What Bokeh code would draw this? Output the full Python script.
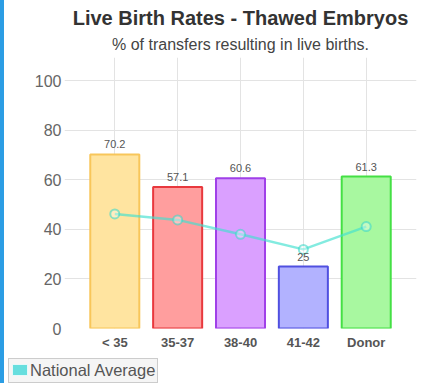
from bokeh.plotting import figure
from bokeh.layouts import column
from bokeh.models import (FactorRange, Range1d, ColumnDataSource, FixedTicker, Title,
                          LabelSet, Div)
from bokeh.core.properties import value
from bokeh.embed import file_html
from bokeh.resources import INLINE

categories = ["< 35", "35-37", "38-40", "41-42", "Donor"]
clinic_rates = [70.2, 57.1, 60.6, 25, 61.3]
national_average = [46.2, 43.8, 38.0, 31.9, 41.1]
bar_fill = ["#ffe4a0", "#ff9e9e", "#daa0ff", "#b2b2ff", "#a8f8a0"]
bar_line = ["#f8c65a", "#e8383d", "#a040e8", "#5050e0", "#44e044"]
y_ticks = [0, 20, 40, 60, 80, 100]
legend_label = "National Average"
legend_color = "#66dede"

FONT = "Liberation Sans"

bars = ColumnDataSource(dict(cat=categories, val=clinic_rates, fill=bar_fill,
                             line=bar_line, lbl=[f"{v:g}" for v in clinic_rates]))
nat = ColumnDataSource(dict(cat=categories, val=national_average))

p = figure(frame_width=352, frame_height=271, output_backend="svg",
           toolbar_location=None,
           x_range=FactorRange(factors=categories, range_padding=0.3,
                               range_padding_units="absolute"),
           y_range=Range1d(0, 109.3),
           min_border_left=60, min_border_right=5, min_border_top=57,
           min_border_bottom=30)
p.outline_line_color = None
p.background_fill_color = "white"

# titles
sub = Title(text="% of transfers resulting in live births.", align="center",
            text_font=FONT, text_font_size="16px", text_font_style="normal",
            text_color="#444444", standoff=10)
p.add_layout(sub, "above")
main = Title(text="Live Birth Rates - Thawed Embryos", align="center",
             text_font=FONT, text_font_size="20px", text_font_style="bold",
             text_color="#333333", standoff=0)
p.add_layout(main, "above")

# grids
p.xgrid.grid_line_color = "#e3e3e3"
p.ygrid.grid_line_color = "#e3e3e3"
p.ygrid.ticker = FixedTicker(ticks=y_ticks)

# axes
p.yaxis.ticker = FixedTicker(ticks=y_ticks)
p.yaxis.axis_line_color = None
p.yaxis.major_tick_line_color = None
p.yaxis.minor_tick_line_color = None
p.yaxis.major_tick_out = 0
p.yaxis.major_label_standoff = 3
p.yaxis.major_label_text_font = FONT
p.yaxis.major_label_text_font_size = "16px"
p.yaxis.major_label_text_color = "#666666"

p.xaxis.axis_line_color = None
p.xaxis.major_tick_line_color = None
p.xaxis.major_tick_out = 0
p.xaxis.major_label_standoff = 6
p.xaxis.major_label_text_font = FONT
p.xaxis.major_label_text_font_size = "13px"
p.xaxis.major_label_text_font_style = "bold"
p.xaxis.major_label_text_color = "#555555"

# bars
p.vbar(x="cat", top="val", width=0.78, source=bars, fill_color="fill",
       line_color="line", line_width=2)

labels = LabelSet(x="cat", y="val", text="lbl", source=bars, text_align="center",
                  text_baseline="bottom", y_offset=6, text_font=value(FONT),
                  text_font_size=value("11px"), text_color="#555555")
p.add_layout(labels)

# national average line
p.line(x="cat", y="val", source=nat, line_color="#40e0d0", line_alpha=0.65,
       line_width=2.5)
p.scatter(x="cat", y="val", source=nat, size=9, fill_color="white",
          fill_alpha=0.35, line_color="#40d8c8", line_alpha=0.6, line_width=2)

# legend box under the chart
legend_html = (
    '<div style="display:inline-flex;align-items:center;border:1px solid #cccccc;'
    'background:#f5f5f5;padding:2px 2px 3px 3px;font-family:\'Liberation Sans\';'
    'font-size:16.5px;line-height:18px;color:#555555;">'
    f'<span style="display:inline-block;width:16px;height:12px;background:{legend_color};'
    'border:1px solid #e6f8f8;box-sizing:border-box;margin-right:2px;"></span>'
    f'{legend_label}</div>'
)
legend = Div(text=legend_html, margin=(0, 0, 0, 4))

layout = column(p, legend, spacing=0,
                styles={"border-left": "4px solid #2b9de4"})
open("out.html", "w").write(file_html(layout, INLINE))
